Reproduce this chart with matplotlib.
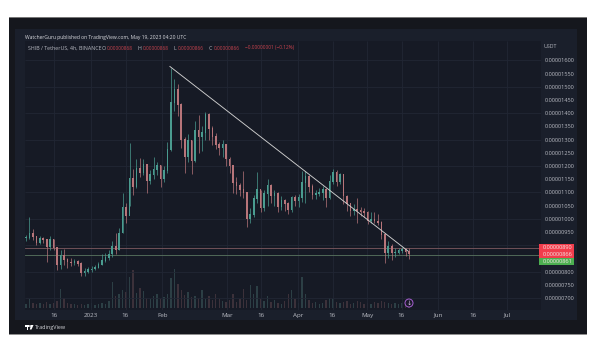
import numpy as np
import matplotlib
matplotlib.use("Agg")
import matplotlib.pyplot as plt
from matplotlib.patches import Rectangle, Circle, Polygon

# prices in units of 1e-8 USDT; one candle every 1.5 days from day -28 (day 0 = 1 Jan 2023)
closes = [927,945,931,908,925,920,895,922,890,825,860,845,835,832,838,830,795,800,806,808,
          815,825,840,852,865,893,882,945,1040,1010,1150,1120,1190,1175,1205,1145,1165,1185,1200,1150,
          1180,1260,1440,1490,1430,1300,1235,1295,1220,1335,1310,1325,1395,1340,1310,1280,1268,1280,1225,1200,
          1135,1125,1110,1098,1000,1015,1075,1110,1040,1095,1125,1085,1095,1045,1070,1055,1035,1078,1068,1080,
          1135,1158,1120,1090,1095,1098,1108,1080,1140,1173,1140,1165,1085,1055,1028,1035,1030,1025,1022,990,
          998,990,985,940,870,893,870,870,878,882,874,866]
highs = [940,1007,960,935,935,930,925,935,925,895,880,885,850,850,848,845,835,815,818,820,
         825,838,868,870,880,915,945,965,1098,1060,1287,1190,1225,1230,1225,1205,1185,1235,1215,1205,
         1200,1290,1570,1530,1510,1440,1310,1320,1300,1370,1393,1350,1405,1400,1350,1325,1290,1300,1285,1235,
         1205,1160,1135,1180,1100,1040,1090,1177,1110,1110,1150,1130,1110,1100,1085,1075,1065,1085,1090,1095,
         1180,1180,1165,1130,1110,1115,1125,1115,1165,1188,1185,1175,1170,1090,1060,1055,1080,1045,1040,1030,
         1025,1025,1020,990,945,915,905,890,890,895,890,888]
lows = [915,925,920,900,905,910,836,880,880,806,810,825,815,822,825,820,785,785,795,800,
        805,812,825,835,845,855,865,880,945,985,1050,1090,1115,1160,1165,1098,1130,1150,1165,1120,
        1140,1175,1255,1410,1390,1270,1173,1215,1170,1215,1250,1255,1300,1300,1280,1265,1240,1235,1200,1175,
        1098,1095,1085,1080,969,985,1005,1060,1025,1030,1050,1060,1050,1025,1035,1030,1020,1025,1050,1045,
        1065,1060,1100,1075,1075,1085,1070,1045,1075,1130,1125,1130,1055,1030,1010,1015,985,1010,1005,980,
        985,985,975,925,833,850,845,855,865,870,860,848]
volumes = [4,9,5,4,5,4,6,4,5,7,19,10,5,4,4,3,4,3,4,5,
           3,4,5,4,7,26,12,14,18,16,31,38,15,20,17,10,9,12,14,9,
           11,14,30,39,24,18,13,16,11,12,10,18,9,12,8,14,9,7,6,8,
           14,6,9,19,8,23,14,22,9,7,12,6,8,5,4,7,14,18,9,5,
           31,14,8,5,6,4,5,8,10,9,6,5,6,7,4,5,7,6,4,5,
           4,6,5,7,6,5,4,5,4,5,4,3]

y_ticks = [700,750,800,950,1000,1050,1100,1150,1200,1250,1300,1350,1400,1450,1500,1550,1600]
grid_prices = [700,800,900,1000,1100,1200,1300,1400,1500,1600]
x_days = [-16,0,15,31,59,74,90,105,120,135,151,166,181]
x_labels = ["16","2023","16","Feb","Mar","16","Apr","16","May","16","Jun","16","Jul"]
resistance = 891
support = 862
trend_days = [34.3,137.8]
trend_prices = [1577,878]

BG="#161a25"; UP="#4a9c90"; DOWN="#b8757a"; TXT="#b9bbc3"
plt.rcParams['font.family']=['Open Sans','DejaVu Sans']
fig=plt.figure(figsize=(6,3.53),dpi=100,facecolor="white")
W,H=600,353

bg=fig.add_axes([0,0,1,1],zorder=0)
bg.set_xlim(0,W); bg.set_ylim(H,0); bg.axis("off")
bg.add_patch(Rectangle((9,17),578,317,fc="#15171d",ec="none"))
bg.add_patch(Rectangle((9,333.5),578,1.2,fc="#8f8f8f",ec="none"))
bg.add_patch(Rectangle((9,17),578,0.8,fc="#777777",ec="none"))
bg.add_patch(Rectangle((15,29),562,291,fc="#1a1f2b",ec="none"))
bg.add_patch(Rectangle((25,41),516,269,fc=BG,ec="none"))

ax=fig.add_axes([25/W,1-310/H,516/W,269/H],zorder=1)
vol=ax.twinx()
ax.set_xlim(-28.7,195.65); ax.set_ylim(654.5,1673.5)
for s in ax.spines.values(): s.set_visible(False)
ax.set_xticks(x_days); ax.set_xticklabels(x_labels)
ax.yaxis.tick_right()
ax.set_yticks(y_ticks); ax.set_yticklabels([f"{v/1e8:.8f}" for v in y_ticks])
ax.tick_params(axis="y",length=0,colors=TXT,labelsize=4.05,pad=2.5)
ax.tick_params(axis="x",length=0,colors=TXT,labelsize=4.5,pad=2)
ax.vlines(x_days,654.5,1673.5,color="#212634",lw=0.6,zorder=1)
ax.hlines(grid_prices,-28.7,195.65,color="#212634",lw=0.6,zorder=1)

days=-28.26+1.5*np.arange(len(closes))
c=np.array(closes,float); o=np.r_[c[0],c[:-1]]
col=[UP if a>=b else DOWN for a,b in zip(c,o)]
ax.vlines(days,lows,highs,colors=col,lw=0.5,zorder=4)
ax.bar(days,np.abs(c-o)+3,bottom=np.minimum(c,o),width=0.7,color=col,zorder=4)

ax.axhline(resistance,color="#7f5a60",lw=0.6,zorder=3)
ax.axhline(support,color="#5a7560",lw=0.6,zorder=3)
ax.plot(trend_days,trend_prices,color="#cfcfcf",lw=0.65,zorder=5)

vol.set_ylim(-2,267); vol.axis("off"); vol.patch.set_visible(False)
ax.set_zorder(2); vol.set_zorder(1)
ax.patch.set_visible(False)
vol.bar(days,volumes,width=0.6,color=[("#5c8f8a" if k==UP else "#8f6468") for k in col],alpha=0.32)

ov=fig.add_axes([0,0,1,1],zorder=5)
ov.set_xlim(0,W); ov.set_ylim(H,0); ov.axis("off"); ov.patch.set_visible(False)
ov.text(25,37,"WatcherGuru published on TradingView.com, May 19, 2023 04:20 UTC",color="#d8d9de",fontsize=3.6,va="center")
ov.text(28.5,48,"SHIB / TetherUS, 4h, BINANCE",color=TXT,fontsize=3.75,va="center")
for x,l,v in [(102,"O","0.00000868"),(138,"H","0.00000868"),(173,"L","0.00000866"),(209,"C","0.00000866")]:
    ov.text(x,48,l,color=TXT,fontsize=3.75,va="center")
    ov.text(x+5,48,v,color="#c9434e",fontsize=3.4,va="center")
ov.text(245,48,"\u22120.00000001 (\u22120.12%)",color="#c9434e",fontsize=3.4,va="center")
ov.text(543.5,47,"USDT",color=TXT,fontsize=3.8,va="center")

for y0,h,fc,txt,yt in [(244,7,"#f23d4c","0.00000890",247.5),(251,7,"#f23d4c","0.00000866",254.3),(258,7,"#4caf50","0.00000861",261.5)]:
    ov.add_patch(Rectangle((539,y0),35,h,fc=fc,ec="none"))
    ov.text(543,yt,txt,color="#f3e6e6",fontsize=4.05,va="center")

ov.add_patch(Circle((409,303),4,fc="#1c1a2b",ec="#a55fd0",lw=0.7))
ov.text(409,303,"\u2193",color="#d9c4ea",fontsize=4.5,ha="center",va="center")

ov.add_patch(Rectangle((25,325),4,1.6,fc="white",ec="none"))
ov.add_patch(Rectangle((26.5,325),1.6,4.5,fc="white",ec="none"))
ov.add_patch(Circle((30,326),0.9,fc="white",ec="none"))
ov.add_patch(Polygon([(31,325),(33.5,325),(31.5,329.5),(29.8,329.5)],fc="white",ec="none"))
ov.text(35,327.3,"TradingView",color="#d4d5da",fontsize=3.9,va="center")

fig.savefig("out.png",dpi=100,facecolor="white")
